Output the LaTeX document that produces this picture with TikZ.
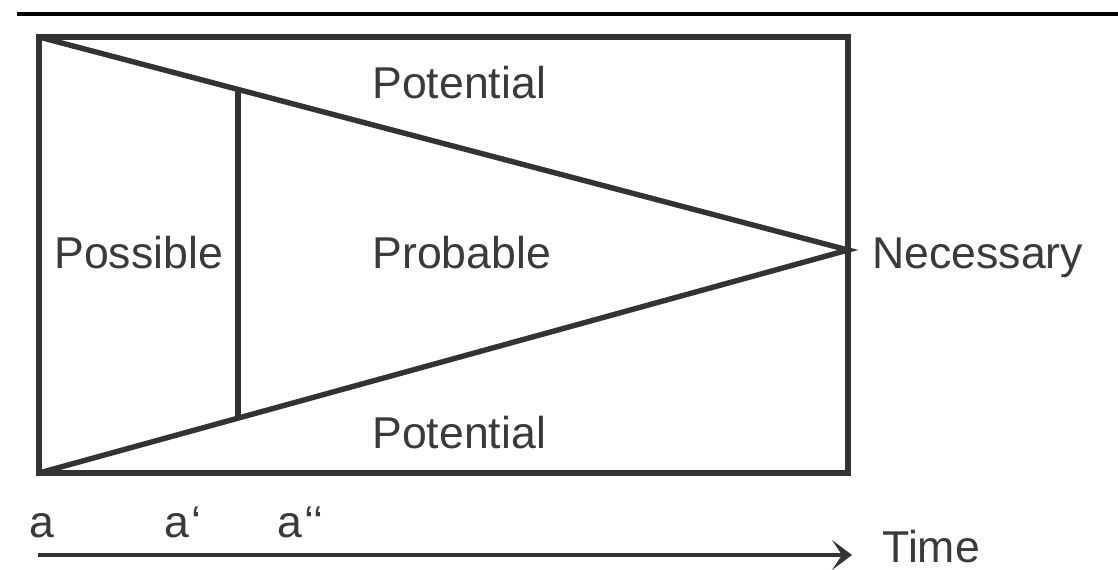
\documentclass[tikz,border=0pt]{standalone}
\usepackage{fontspec}
\setmainfont{Liberation Sans}
\usetikzlibrary{arrows.meta}
\definecolor{linegray}{HTML}{333333}
\definecolor{textgray}{HTML}{3A3A3A}
\begin{document}
\begin{tikzpicture}[x=0.5pt,y=-0.5pt,
  frame/.style={draw=linegray,line width=2.7pt,line join=miter},
  lbl/.style={inner sep=0pt,anchor=base west,text=textgray,font=\fontsize{22.3}{27}\selectfont}]
\useasboundingbox (0,0) rectangle (1118,569);
% top rule
\coordinate (r1) at (17,14);
\coordinate (r2) at (1118,14);
\draw[black,line width=1.6pt] (r1) -- (r2);
% frame
\coordinate (tl) at (39,37);
\coordinate (br) at (848,473);
\coordinate (bl) at (39,473);
\coordinate (apex) at (848,250);
\draw[frame] (tl) rectangle (br);
\draw[frame] (tl) -- (apex) -- (bl);
\path (tl) -- (apex) coordinate[pos=0.246] (vtop);
\path (bl) -- (apex) coordinate[pos=0.246] (vbot);
\draw[frame] (vtop) -- (vbot);
% labels
\node[lbl] (pot1) at (372,98) {Potential};
\node[lbl] (poss) at (54,268) {Possible};
\node[lbl] (prob) at (372,268) {Probable};
\node[lbl] (pot2) at (372,448) {Potential};
\node[lbl] (nec) at (872,268) {Necessary};
\node[lbl] (a0) at (29,537) {a};
\node[lbl] (a1) at (164,537) {a\kern1pt‘};
\node[lbl] (a2) at (277,537) {a\kern1pt‘‘};
% time arrow
\coordinate (t0) at (38,555);
\coordinate (t1) at (852,555);
\draw[linegray,line width=2pt,-{Stealth[length=10pt,width=15pt,inset=5pt]}] (t0) -- (t1);
\node[lbl] (time) at (882,562) {Time};
\end{tikzpicture}
\end{document}
